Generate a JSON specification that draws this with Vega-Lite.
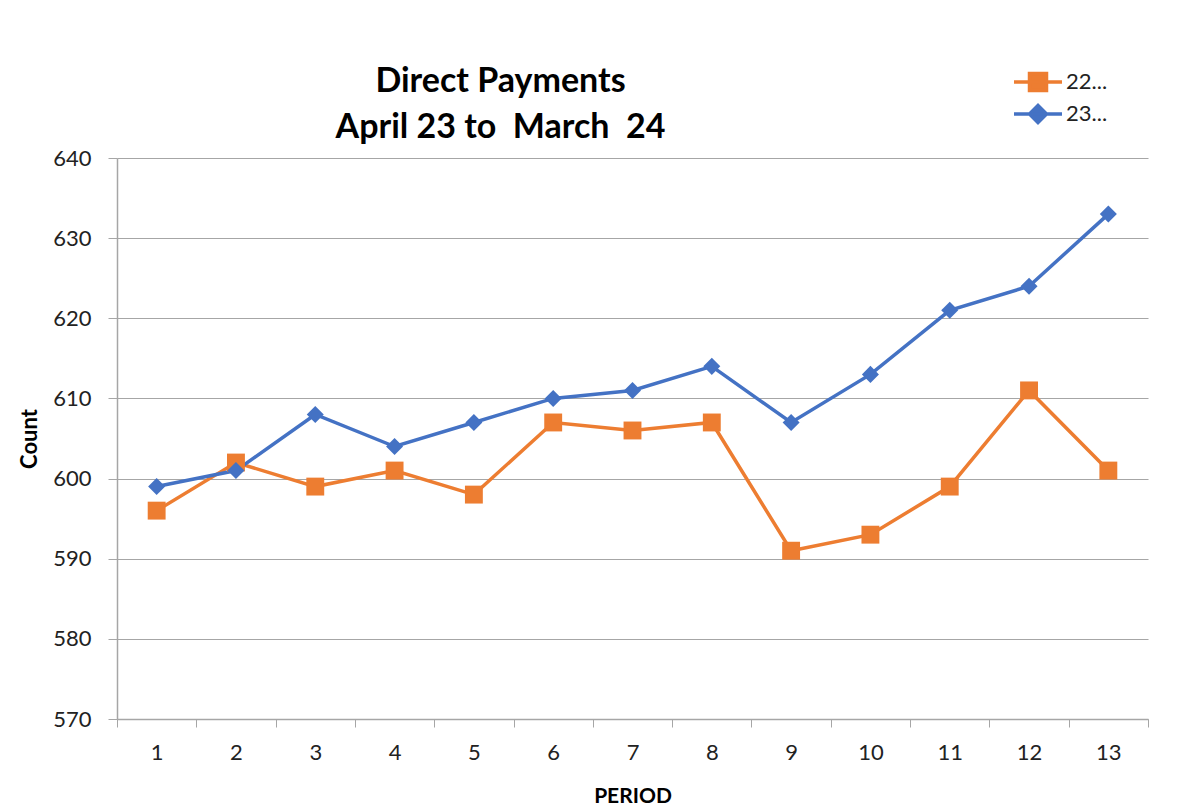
{
  "$schema": "https://vega.github.io/schema/vega-lite/v6.json",
  "width": 1031,
  "height": 561,
  "autosize": {"type": "none"},
  "padding": {"left": 117, "top": 158, "right": 56, "bottom": 92},
  "background": "white",
  "config": {"font": "Lato", "view": {"stroke": null}},
  "title": {
    "text": ["Direct Payments", "April 23 to\u00a0 March\u00a0 24"],
    "fontSize": 34,
    "fontWeight": "bold",
    "color": "black",
    "anchor": "middle",
    "frame": "group",
    "dx": -132,
    "dy": 93,
    "offset": 18,
    "lineHeight": 46
  },
  "data": {
    "values": [
      {"period": 1, "series": "22...", "value": 596},
      {"period": 2, "series": "22...", "value": 602},
      {"period": 3, "series": "22...", "value": 599},
      {"period": 4, "series": "22...", "value": 601},
      {"period": 5, "series": "22...", "value": 598},
      {"period": 6, "series": "22...", "value": 607},
      {"period": 7, "series": "22...", "value": 606},
      {"period": 8, "series": "22...", "value": 607},
      {"period": 9, "series": "22...", "value": 591},
      {"period": 10, "series": "22...", "value": 593},
      {"period": 11, "series": "22...", "value": 599},
      {"period": 12, "series": "22...", "value": 611},
      {"period": 13, "series": "22...", "value": 601},
      {"period": 1, "series": "23...", "value": 599},
      {"period": 2, "series": "23...", "value": 601},
      {"period": 3, "series": "23...", "value": 608},
      {"period": 4, "series": "23...", "value": 604},
      {"period": 5, "series": "23...", "value": 607},
      {"period": 6, "series": "23...", "value": 610},
      {"period": 7, "series": "23...", "value": 611},
      {"period": 8, "series": "23...", "value": 614},
      {"period": 9, "series": "23...", "value": 607},
      {"period": 10, "series": "23...", "value": 613},
      {"period": 11, "series": "23...", "value": 621},
      {"period": 12, "series": "23...", "value": 624},
      {"period": 13, "series": "23...", "value": 633}
    ]
  },
  "encoding": {
    "x": {
      "field": "period",
      "type": "quantitative",
      "title": "PERIOD",
      "scale": {"domain": [0.5, 13.5], "nice": false, "zero": false},
      "axis": {
        "values": [0.5, 1, 1.5, 2, 2.5, 3, 3.5, 4, 4.5, 5, 5.5, 6, 6.5, 7, 7.5, 8, 8.5, 9, 9.5, 10, 10.5, 11, 11.5, 12, 12.5, 13, 13.5],
        "labelExpr": "datum.value % 1 === 0 ? format(datum.value, 'd') : ''",
        "grid": false,
        "domainColor": "#a6a6a6",
        "domainWidth": 1.5,
        "tickColor": "#a6a6a6",
        "tickOpacity": {"condition": {"test": "datum.value % 1 === 0", "value": 0}, "value": 1},
        "tickSize": 8,
        "labelFontSize": 22,
        "labelColor": "#222222",
        "labelPadding": 15,
        "labelFlush": false,
        "labelOverlap": false,
        "titleFontSize": 21,
        "titleFontWeight": "bold",
        "titleColor": "black",
        "titlePadding": 22
      }
    },
    "y": {
      "field": "value",
      "type": "quantitative",
      "title": "Count",
      "scale": {"domain": [570, 640], "nice": false, "zero": false},
      "axis": {
        "values": [570, 580, 590, 600, 610, 620, 630, 640],
        "grid": true,
        "gridColor": "#a6a6a6",
        "gridWidth": 1.2,
        "domainColor": "#a6a6a6",
        "domainWidth": 1.5,
        "tickColor": "#a6a6a6",
        "tickSize": 9,
        "labelFontSize": 22,
        "labelColor": "#222222",
        "labelPadding": 17,
        "titleFontSize": 22,
        "titleFontWeight": "bold",
        "titleColor": "black",
        "titlePadding": 11
      }
    },
    "color": {
      "field": "series",
      "type": "nominal",
      "scale": {"domain": ["22...", "23..."], "range": ["#ED7D31", "#4472C4"]},
      "legend": {
        "title": null,
        "orient": "none",
        "legendX": 909,
        "legendY": -88,
        "padding": 0,
        "symbolSize": 400,
        "symbolStrokeWidth": 3.5,
        "labelFontSize": 22,
        "labelColor": "#222222",
        "labelOffset": 16,
        "rowPadding": 0,
        "encode": {
          "symbols": {
            "update": {
              "shape": {"signal": "datum.value === '22...' ? 'M-2.4,0H2.4M-0.85,-0.85H0.85V0.85H-0.85Z' : 'M-2.4,0H2.4M0,-0.85L0.85,0L0,0.85L-0.85,0Z'"},
              "fill": {"signal": "datum.value === '22...' ? '#ED7D31' : '#4472C4'"},
              "stroke": {"signal": "datum.value === '22...' ? '#ED7D31' : '#4472C4'"},
              "fillOpacity": {"value": 1},
              "strokeOpacity": {"value": 1},
              "strokeWidth": {"value": 3.5}
            }
          }
        }
      }
    }
  },
  "layer": [
    {"mark": {"type": "line", "strokeWidth": 3.5}},
    {
      "transform": [{"filter": "datum.series === '22...'"}],
      "mark": {"type": "point", "shape": "square", "filled": true, "opacity": 1, "size": 320}
    },
    {
      "transform": [{"filter": "datum.series === '23...'"}],
      "mark": {"type": "point", "shape": "diamond", "filled": true, "opacity": 1, "size": 290}
    }
  ]
}
